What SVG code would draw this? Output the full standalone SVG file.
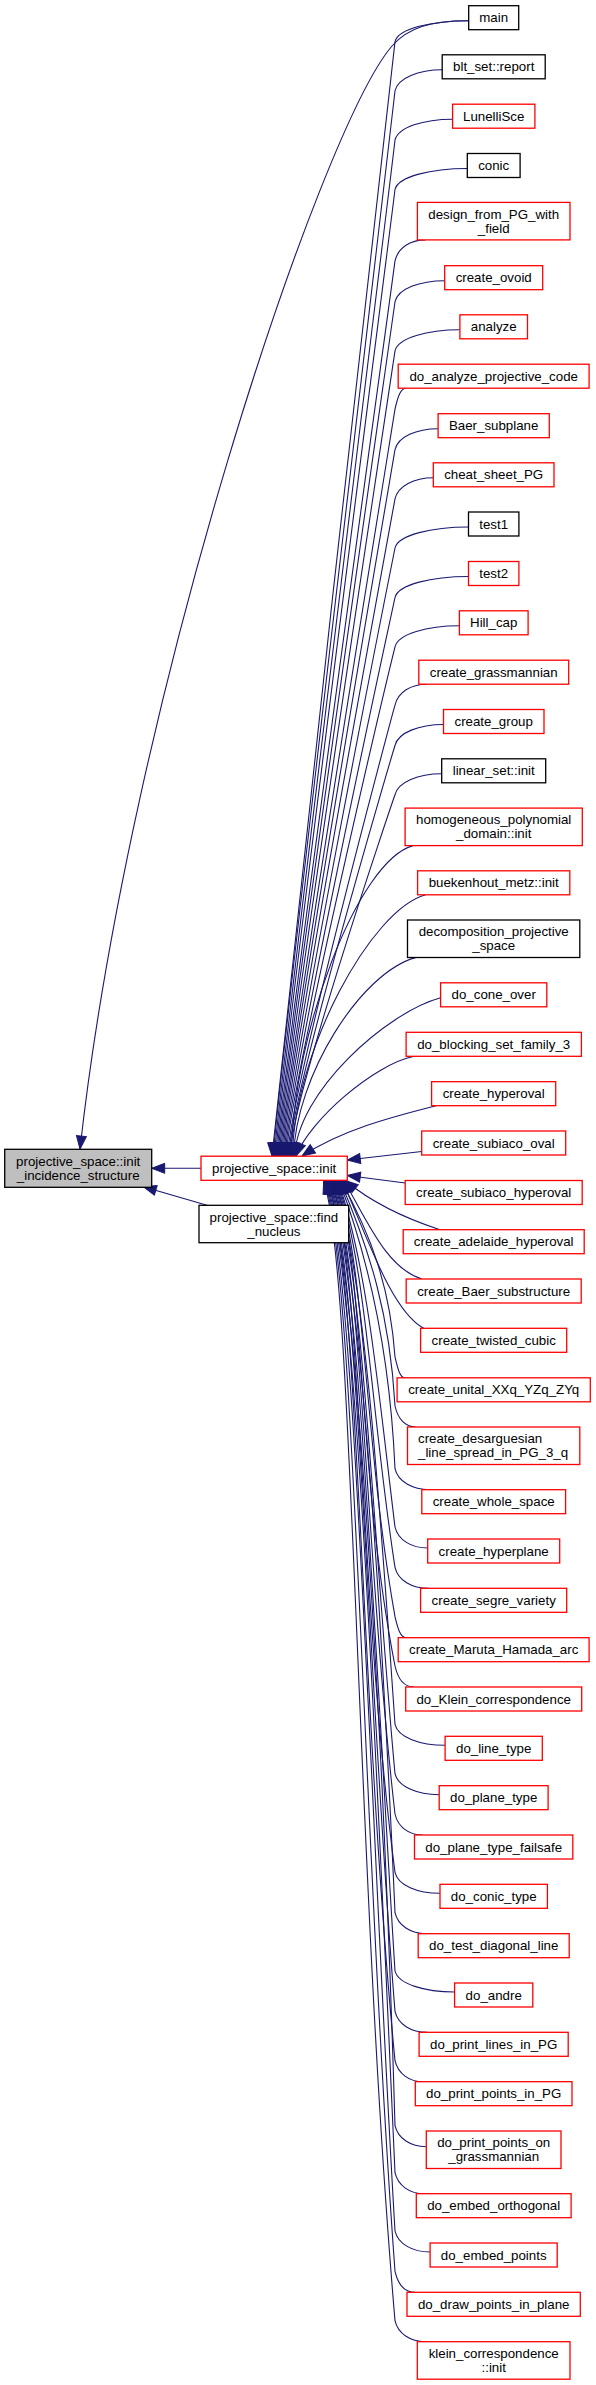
<svg xmlns="http://www.w3.org/2000/svg" width="596" height="2385" viewBox="0 0 596 2385">
<defs>
<style>
.n rect{fill:#fff;stroke-width:1.3}
.r rect{stroke:#ff0000}
.k rect{stroke:#000}
.g rect{fill:#bfbfbf;stroke:#000}
text{font-family:'Liberation Sans',Arial,Helvetica,sans-serif;font-size:13.3px;text-anchor:middle;fill:#000}
.e path{fill:none;stroke:#191970;stroke-width:1.1;marker-end:url(#a)}
</style>
<marker id="a" markerUnits="userSpaceOnUse" markerWidth="14" markerHeight="12" refX="13" refY="5" orient="auto" overflow="visible"><path d="M0,0 L13,5 L0,10 Z" fill="#191970" stroke="#191970" stroke-width="1"/></marker>
</defs>
<rect width="596" height="2385" fill="#fff"/>
<g id="edges" class="e">
<path d="M468.7,20.7 C431.9,20.7 398,28.7 395,41.7 C391,80 275,1100 272,1156"/>
<path d="M468.7,20.7 C430,20.7 408,28 392,46 C320,130 130,700 80,1149"/>
<path d="M442.2,69.8 C418.6,69.8 398,77.8 395,90.8 C391,128 276,1100 273.2,1156"/>
<path d="M452.6,119.2 C423.8,119.2 398,127.2 395,140.2 C391,176 277,1100 274.4,1156"/>
<path d="M467.3,168.5 C431.2,168.5 398,176.5 395,189.5 C391,224 278,1100 275.6,1156"/>
<path d="M425.4,239.9 C410.2,239.9 398,247.9 395,260.9 C391,293 279,1100 276.8,1156"/>
<path d="M444.7,280.7 C419.9,280.7 398,288.7 395,301.7 C391,332 280,1100 278,1156"/>
<path d="M459.9,329.8 C427.5,329.8 398,337.8 395,350.8 C391,379 281,1100 279.2,1156"/>
<path d="M406.2,388.2 C400.6,388.2 398,396.2 395,409.2 C391,435 282,1100 280.4,1156"/>
<path d="M438.1,428.7 C416.6,428.7 398,436.7 395,449.7 C391,474 283,1100 281.6,1156"/>
<path d="M433.3,477.8 C414.2,477.8 398,485.8 395,498.8 C391,521 284,1100 282.8,1156"/>
<path d="M468.5,527 C431.8,527 398,535 395,548 C391,568 285,1100 284,1156"/>
<path d="M468.5,576.5 C431.8,576.5 398,584.5 395,597.5 C391,616 286,1100 285.2,1156"/>
<path d="M459.4,625.8 C427.2,625.8 398,633.8 395,646.8 C391,663 287,1100 286.4,1156"/>
<path d="M426.8,684.2 C410.9,684.2 398,692.2 395,705.2 C391,719 289,1100 287.6,1156"/>
<path d="M443.5,724.5 C419.3,724.5 398,732.5 395,745.5 C391,758 290,1100 288.8,1156"/>
<path d="M441.7,773.8 C418.4,773.8 398,781.8 395,794.8 C391,806 291,1100 290,1156"/>
<path d="M413.1,845.6 C358.1,860.6 293.2,1031.8 291.2,1156"/>
<path d="M425.6,894.8 C370.6,909.8 294.4,1051.5 292.4,1156"/>
<path d="M415.5,957.6 C360.5,972.6 295.6,1076.6 293.6,1156"/>
<path d="M440.6,997.8 C385.6,1012.8 296.8,1092.7 294.8,1156"/>
<path d="M414.1,1056.3 C374.1,1064.3 310,1120 296,1156"/>
<path d="M436,1105.7 C400,1115 345,1128 302,1156"/>
<path d="M421.7,1151.5 L347.3,1160"/>
<path d="M405.2,1183 L347.3,1175.5"/>
<path d="M440,1229.7 C410,1220 375,1205 345,1180.5"/>
<path d="M422,1279 C385,1268 365,1215 343.5,1180.5"/>
<path d="M423.6,1328.3 C390,1310 365,1230 342,1180.5"/>
<path d="M405.1,1377.8 C400.1,1377.8 398,1369.8 395,1356.8 C390,1286.3 370.8,1234.6 340.8,1180.5"/>
<path d="M415.5,1427 C405.3,1427 398,1419 395,1406 C390,1315.8 369.9,1250 339.9,1180.5"/>
<path d="M429.8,1489.7 C412.4,1489.7 398,1481.7 395,1468.7 C390,1353.4 369,1260 339,1180.5"/>
<path d="M427.7,1548 C411.4,1548 398,1540 395,1527 C378,1388.4 368.1,1270.5 338.1,1180.5"/>
<path d="M428.6,1588.3 C411.8,1588.3 398,1580.3 395,1567.3 C371,1412.6 367.2,1270.5 337.2,1180.5"/>
<path d="M406.2,1637.7 C400.6,1637.7 398,1629.7 395,1616.7 C364,1442.2 366.3,1270.5 336.3,1180.5"/>
<path d="M413.7,1687 C404.4,1687 398,1679 395,1666 C357,1471.8 365.4,1270.5 335.4,1180.5"/>
<path d="M445.1,1745.3 C420.1,1745.3 398,1737.3 395,1724.3 C380,1506.8 364.5,1270.5 334.5,1180.5"/>
<path d="M439.2,1794.7 C417.1,1794.7 398,1786.7 395,1773.7 C373,1536.4 363.6,1270.5 333.6,1180.5"/>
<path d="M422.5,1835 C408.8,1835 398,1827 395,1814 C366,1560.6 362.7,1270.5 332.7,1180.5"/>
<path d="M440,1893.3 C417.5,1893.3 398,1885.3 395,1872.3 C359,1595.6 361.8,1270.5 331.8,1180.5"/>
<path d="M426.2,1933.7 C410.6,1933.7 398,1925.7 395,1912.7 C382,1619.8 360.9,1270.5 330.9,1180.5"/>
<path d="M454.6,1992 C424.8,1992 398,1984 395,1971 C375,1654.8 360,1270.5 330,1180.5"/>
<path d="M427.1,2032.3 C411.1,2032.3 398,2024.3 395,2011.3 C368,1679 359.1,1270.5 329.1,1180.5"/>
<path d="M423.3,2081.7 C409.2,2081.7 398,2073.7 395,2060.7 C361,1708.6 358.2,1270.5 328.2,1180.5"/>
<path d="M426.3,2146.7 C410.7,2146.7 398,2138.7 395,2125.7 C384,1747.6 357.3,1270.5 327.3,1180.5"/>
<path d="M424.3,2193.7 C409.7,2193.7 398,2185.7 395,2172.7 C377,1775.8 356.4,1270.5 326.4,1180.5"/>
<path d="M430.1,2252 C412.6,2252 398,2244 395,2231 C370,1810.8 355.5,1270.5 325.5,1180.5"/>
<path d="M415,2292.3 C405,2292.3 398,2284.3 395,2271.3 C363,1835 354.6,1270.5 324.6,1180.5"/>
<path d="M425.3,2341.7 C410.2,2341.7 398,2333.7 395,2320.7 C356,1864.6 353.7,1270.5 323.7,1180.5"/>
<path d="M201,1168.3 L151.7,1168.3"/>
<path d="M207,1205.3 L143.3,1186.7"/>
</g>
<g id="n0" class="n g"><rect x="4.7" y="1149.3" width="147" height="38"/><text x="78.2" y="1165.8">projective_space::init</text><text x="78.2" y="1179.8">_incidence_structure</text></g>
<g id="init" class="n r"><rect x="201" y="1156.2" width="146.3" height="24.1"/><text x="274.2" y="1172.8">projective_space::init</text></g>
<g id="find" class="n k"><rect x="199" y="1205.3" width="149.7" height="37.4"/><text x="273.9" y="1221.5">projective_space::find</text><text x="273.9" y="1235.5">_nucleus</text></g>
<g id="n1" class="n k"><rect x="468.7" y="5.7" width="50" height="24"/><text x="493.7" y="22.3">main</text></g>
<g id="n2" class="n k"><rect x="442.2" y="54.8" width="103" height="24"/><text x="493.7" y="71.4">blt_set::report</text></g>
<g id="n3" class="n r"><rect x="452.6" y="104.2" width="82.3" height="24"/><text x="493.7" y="120.8">LunelliSce</text></g>
<g id="n4" class="n k"><rect x="467.3" y="153.5" width="52.8" height="24"/><text x="493.7" y="170.1">conic</text></g>
<g id="n5" class="n r"><rect x="417.4" y="202.4" width="152.6" height="37.5"/><text x="493.7" y="218.7">design_from_PG_with</text><text x="493.7" y="232.7">_field</text></g>
<g id="n6" class="n r"><rect x="444.7" y="265.7" width="98" height="24"/><text x="493.7" y="282.3">create_ovoid</text></g>
<g id="n7" class="n r"><rect x="459.9" y="314.8" width="67.6" height="24"/><text x="493.7" y="331.4">analyze</text></g>
<g id="n8" class="n r"><rect x="398.2" y="364.2" width="190.9" height="24"/><text x="493.7" y="380.8">do_analyze_projective_code</text></g>
<g id="n9" class="n r"><rect x="438.1" y="413.7" width="111.2" height="24"/><text x="493.7" y="430.3">Baer_subplane</text></g>
<g id="n10" class="n r"><rect x="433.3" y="462.8" width="120.7" height="24"/><text x="493.7" y="479.4">cheat_sheet_PG</text></g>
<g id="n11" class="n k"><rect x="468.5" y="512" width="50.4" height="24"/><text x="493.7" y="528.6">test1</text></g>
<g id="n12" class="n r"><rect x="468.5" y="561.5" width="50.4" height="24"/><text x="493.7" y="578.1">test2</text></g>
<g id="n13" class="n r"><rect x="459.4" y="610.8" width="68.7" height="24"/><text x="493.7" y="627.4">Hill_cap</text></g>
<g id="n14" class="n r"><rect x="418.8" y="660.2" width="149.9" height="24"/><text x="493.7" y="676.8">create_grassmannian</text></g>
<g id="n15" class="n r"><rect x="443.5" y="709.5" width="100.5" height="24"/><text x="493.7" y="726.1">create_group</text></g>
<g id="n16" class="n k"><rect x="441.7" y="758.8" width="104" height="24"/><text x="493.7" y="775.4">linear_set::init</text></g>
<g id="n17" class="n r"><rect x="405.1" y="808.1" width="177.2" height="37.5"/><text x="493.7" y="824.3">homogeneous_polynomial</text><text x="493.7" y="838.3">_domain::init</text></g>
<g id="n18" class="n r"><rect x="417.6" y="870.8" width="152.2" height="24"/><text x="493.7" y="887.4">buekenhout_metz::init</text></g>
<g id="n19" class="n k"><rect x="407.5" y="920" width="172.3" height="37.5"/><text x="493.7" y="936.3">decomposition_projective</text><text x="493.7" y="950.3">_space</text></g>
<g id="n20" class="n r"><rect x="440.6" y="982.8" width="106.2" height="24"/><text x="493.7" y="999.4">do_cone_over</text></g>
<g id="n21" class="n r"><rect x="406.1" y="1032.3" width="175.3" height="24"/><text x="493.7" y="1048.9">do_blocking_set_family_3</text></g>
<g id="n22" class="n r"><rect x="431.6" y="1081.7" width="124.1" height="24"/><text x="493.7" y="1098.3">create_hyperoval</text></g>
<g id="n23" class="n r"><rect x="421.7" y="1131" width="144" height="24"/><text x="493.7" y="1147.6">create_subiaco_oval</text></g>
<g id="n24" class="n r"><rect x="405.2" y="1180.5" width="177" height="24"/><text x="493.7" y="1197.1">create_subiaco_hyperoval</text></g>
<g id="n25" class="n r"><rect x="403.2" y="1229.7" width="181" height="24"/><text x="493.7" y="1246.3">create_adelaide_hyperoval</text></g>
<g id="n26" class="n r"><rect x="406.2" y="1279" width="175" height="24"/><text x="493.7" y="1295.6">create_Baer_substructure</text></g>
<g id="n27" class="n r"><rect x="420.6" y="1328.3" width="146.1" height="24"/><text x="493.7" y="1344.9">create_twisted_cubic</text></g>
<g id="n28" class="n r"><rect x="397.1" y="1377.8" width="193.2" height="24"/><text x="493.7" y="1394.4">create_unital_XXq_YZq_ZYq</text></g>
<g id="n29" class="n r"><rect x="407.5" y="1427" width="172.3" height="37.5"/><text x="418" y="1443.2" style="text-anchor:start">create_desarguesian</text><text x="418" y="1457.2" style="text-anchor:start">_line_spread_in_PG_3_q</text></g>
<g id="n30" class="n r"><rect x="421.8" y="1489.7" width="143.8" height="24"/><text x="493.7" y="1506.3">create_whole_space</text></g>
<g id="n31" class="n r"><rect x="427.7" y="1539" width="132" height="24"/><text x="493.7" y="1555.6">create_hyperplane</text></g>
<g id="n32" class="n r"><rect x="420.6" y="1588.3" width="146.1" height="24"/><text x="493.7" y="1604.9">create_segre_variety</text></g>
<g id="n33" class="n r"><rect x="398.2" y="1637.7" width="190.9" height="24"/><text x="493.7" y="1654.3">create_Maruta_Hamada_arc</text></g>
<g id="n34" class="n r"><rect x="405.7" y="1687" width="176" height="24"/><text x="493.7" y="1703.6">do_Klein_correspondence</text></g>
<g id="n35" class="n r"><rect x="445.1" y="1736.3" width="97.2" height="24"/><text x="493.7" y="1752.9">do_line_type</text></g>
<g id="n36" class="n r"><rect x="439.2" y="1785.7" width="108.9" height="24"/><text x="493.7" y="1802.3">do_plane_type</text></g>
<g id="n37" class="n r"><rect x="414.5" y="1835" width="158.3" height="24"/><text x="493.7" y="1851.6">do_plane_type_failsafe</text></g>
<g id="n38" class="n r"><rect x="440" y="1884.3" width="107.4" height="24"/><text x="493.7" y="1900.9">do_conic_type</text></g>
<g id="n39" class="n r"><rect x="418.2" y="1933.7" width="151" height="24"/><text x="493.7" y="1950.3">do_test_diagonal_line</text></g>
<g id="n40" class="n r"><rect x="454.6" y="1983" width="78.2" height="24"/><text x="493.7" y="1999.6">do_andre</text></g>
<g id="n41" class="n r"><rect x="419.1" y="2032.3" width="149.1" height="24"/><text x="493.7" y="2048.9">do_print_lines_in_PG</text></g>
<g id="n42" class="n r"><rect x="415.3" y="2081.7" width="156.7" height="24"/><text x="493.7" y="2098.3">do_print_points_in_PG</text></g>
<g id="n43" class="n r"><rect x="426.3" y="2131" width="134.7" height="37.5"/><text x="493.7" y="2147.2">do_print_points_on</text><text x="493.7" y="2161.2">_grassmannian</text></g>
<g id="n44" class="n r"><rect x="416.3" y="2193.7" width="154.8" height="24"/><text x="493.7" y="2210.3">do_embed_orthogonal</text></g>
<g id="n45" class="n r"><rect x="430.1" y="2243" width="127.1" height="24"/><text x="493.7" y="2259.6">do_embed_points</text></g>
<g id="n46" class="n r"><rect x="407" y="2292.3" width="173.3" height="24"/><text x="493.7" y="2308.9">do_draw_points_in_plane</text></g>
<g id="n47" class="n r"><rect x="417.3" y="2341.7" width="152.7" height="37.5"/><text x="493.7" y="2357.9">klein_correspondence</text><text x="493.7" y="2371.9">::init</text></g>
</svg>
